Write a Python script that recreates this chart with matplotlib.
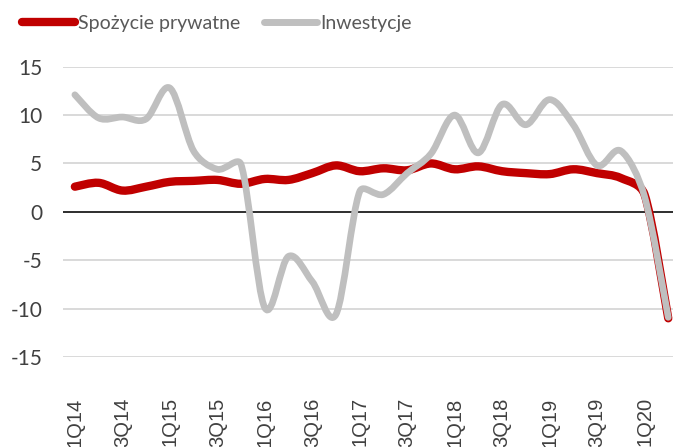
import numpy as np
import matplotlib.pyplot as plt
from matplotlib.path import Path
from matplotlib.patches import PathPatch
from matplotlib.lines import Line2D

quarters = ['1Q14', '2Q14', '3Q14', '4Q14', '1Q15', '2Q15', '3Q15', '4Q15',
            '1Q16', '2Q16', '3Q16', '4Q16', '1Q17', '2Q17', '3Q17', '4Q17',
            '1Q18', '2Q18', '3Q18', '4Q18', '1Q19', '2Q19', '3Q19', '4Q19',
            '1Q20', '2Q20']
spozycie = [2.6, 3.0, 2.2, 2.6, 3.1, 3.2, 3.3, 2.9, 3.4, 3.3, 4.0, 4.8, 4.2,
            4.5, 4.3, 5.0, 4.4, 4.7, 4.2, 4.0, 3.9, 4.4, 4.0, 3.5, 1.8, -11.0]
inwestycje = [12.1, 9.7, 9.8, 9.6, 12.8, 6.3, 4.4, 4.9, -9.9, -4.6, -7.2, -10.6,
              2.1, 1.8, 4.0, 6.0, 10.0, 6.1, 11.1, 9.0, 11.6, 9.0, 4.8, 6.3,
              1.6, -10.9]
yticks = [-15, -10, -5, 0, 5, 10, 15]

RED = '#c00000'
GREY = '#bfbfbf'
TXT = '#404040'

# rough screen scale (px per unit) so the smoothing looks the same as on screen
SX, SY = 23.7, 9.68


def smooth_path(xs, ys, alpha=0.4):
    # excel-like smoothing: catmull-rom bezier, control arms clamped to a
    # share of the segment length so short segments next to big drops
    # don't overshoot
    p = np.column_stack([np.asarray(xs) * SX, np.asarray(ys) * SY]).astype(float)
    n = len(p)
    tang = []
    for i in range(n):
        a = p[i - 1] if i > 0 else p[i]
        b = p[i + 1] if i < n - 1 else p[i]
        tang.append((b - a) / 6)

    def clamp(v, L):
        m = np.hypot(*v)
        return v if m <= alpha * L else v * alpha * L / m

    verts = [p[0]]
    codes = [Path.MOVETO]
    for i in range(n - 1):
        L = np.hypot(*(p[i + 1] - p[i]))
        c1 = p[i] + clamp(tang[i], L)
        c2 = p[i + 1] - clamp(tang[i + 1], L)
        verts += [c1, c2, p[i + 1]]
        codes += [Path.CURVE4] * 3
    verts = np.array(verts) / [SX, SY]
    return Path(verts, codes)


fig = plt.figure(figsize=(6.73, 4.47), dpi=100)
ax = fig.add_axes([63 / 673, 1 - 357 / 447, 1 - 63 / 673, 290.3 / 447])

x = np.arange(len(quarters))
ax.add_patch(PathPatch(smooth_path(x, spozycie), fill=False, edgecolor=RED,
                       lw=6.0, capstyle='round', joinstyle='round', zorder=3))
ax.add_patch(PathPatch(smooth_path(x, inwestycje), fill=False, edgecolor=GREY,
                       lw=4.8, capstyle='round', joinstyle='round', zorder=4))

ax.set_xlim(-0.5, 25.2)
ax.set_ylim(-15, 15)
ax.set_yticks(yticks)
ax.set_yticklabels([str(v) for v in yticks], family='Lato', fontsize=15, color=TXT)
ax.yaxis.grid(True, color='#d9d9d9', lw=1.4)
ax.set_axisbelow(True)
ax.axhline(0, color='black', lw=1.1, zorder=2)

ax.set_xticks(x[::2])
ax.set_xticklabels(quarters[::2], rotation=90, family='Liberation Sans',
                   fontsize=14.5, color=TXT, va='top')
ax.tick_params(axis='x', length=0, pad=29)
ax.tick_params(axis='y', length=0, pad=15)
for s in ax.spines.values():
    s.set_visible(False)

handles = [Line2D([], [], color=RED, lw=6, solid_capstyle='round'),
           Line2D([], [], color=GREY, lw=5, solid_capstyle='round')]
fig.legend(handles, ['Spożycie prywatne', 'Inwestycje'], loc='center left',
           bbox_to_anchor=(22 / 673, 1 - 23 / 447), ncol=2, frameon=False,
           handlelength=2.75, handletextpad=0.15, columnspacing=1.2,
           prop={'family': 'Lato', 'size': 14}, labelcolor='#595959',
           borderaxespad=0, borderpad=0)

fig.savefig('out.png', dpi=100)
